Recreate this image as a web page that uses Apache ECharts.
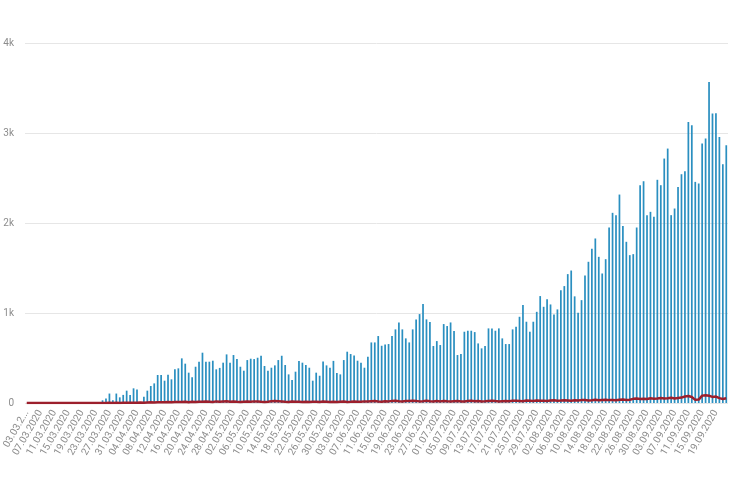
<html>
<head>
    <meta charset='utf-8'>
    <script src='https://cdn.jsdelivr.net/npm/echarts@6/dist/echarts.min.js'></script>
    <style>
        html, body, #main {
            width: 100%;
            height: 100%;
            margin: 0;
            background: #fff;
        }
    </style>
</head>
<body>

<div id='main'></div>
<script>
    // one category per day, 03.03.2020 .. 22.09.2020
    var days = [
        '03.03.2020','04.03.2020','05.03.2020','06.03.2020','07.03.2020','08.03.2020','09.03.2020','10.03.2020','11.03.2020','12.03.2020',
        '13.03.2020','14.03.2020','15.03.2020','16.03.2020','17.03.2020','18.03.2020','19.03.2020','20.03.2020','21.03.2020','22.03.2020',
        '23.03.2020','24.03.2020','25.03.2020','26.03.2020','27.03.2020','28.03.2020','29.03.2020','30.03.2020','31.03.2020',
        '01.04.2020','02.04.2020','03.04.2020','04.04.2020','05.04.2020','06.04.2020','07.04.2020','08.04.2020','09.04.2020','10.04.2020',
        '11.04.2020','12.04.2020','13.04.2020','14.04.2020','15.04.2020','16.04.2020','17.04.2020','18.04.2020','19.04.2020','20.04.2020',
        '21.04.2020','22.04.2020','23.04.2020','24.04.2020','25.04.2020','26.04.2020','27.04.2020','28.04.2020','29.04.2020','30.04.2020',
        '01.05.2020','02.05.2020','03.05.2020','04.05.2020','05.05.2020','06.05.2020','07.05.2020','08.05.2020','09.05.2020','10.05.2020',
        '11.05.2020','12.05.2020','13.05.2020','14.05.2020','15.05.2020','16.05.2020','17.05.2020','18.05.2020','19.05.2020','20.05.2020',
        '21.05.2020','22.05.2020','23.05.2020','24.05.2020','25.05.2020','26.05.2020','27.05.2020','28.05.2020','29.05.2020','30.05.2020','31.05.2020',
        '01.06.2020','02.06.2020','03.06.2020','04.06.2020','05.06.2020','06.06.2020','07.06.2020','08.06.2020','09.06.2020','10.06.2020',
        '11.06.2020','12.06.2020','13.06.2020','14.06.2020','15.06.2020','16.06.2020','17.06.2020','18.06.2020','19.06.2020','20.06.2020',
        '21.06.2020','22.06.2020','23.06.2020','24.06.2020','25.06.2020','26.06.2020','27.06.2020','28.06.2020','29.06.2020','30.06.2020',
        '01.07.2020','02.07.2020','03.07.2020','04.07.2020','05.07.2020','06.07.2020','07.07.2020','08.07.2020','09.07.2020','10.07.2020',
        '11.07.2020','12.07.2020','13.07.2020','14.07.2020','15.07.2020','16.07.2020','17.07.2020','18.07.2020','19.07.2020','20.07.2020',
        '21.07.2020','22.07.2020','23.07.2020','24.07.2020','25.07.2020','26.07.2020','27.07.2020','28.07.2020','29.07.2020','30.07.2020','31.07.2020',
        '01.08.2020','02.08.2020','03.08.2020','04.08.2020','05.08.2020','06.08.2020','07.08.2020','08.08.2020','09.08.2020','10.08.2020',
        '11.08.2020','12.08.2020','13.08.2020','14.08.2020','15.08.2020','16.08.2020','17.08.2020','18.08.2020','19.08.2020','20.08.2020',
        '21.08.2020','22.08.2020','23.08.2020','24.08.2020','25.08.2020','26.08.2020','27.08.2020','28.08.2020','29.08.2020','30.08.2020','31.08.2020',
        '01.09.2020','02.09.2020','03.09.2020','04.09.2020','05.09.2020','06.09.2020','07.09.2020','08.09.2020','09.09.2020','10.09.2020',
        '11.09.2020','12.09.2020','13.09.2020','14.09.2020','15.09.2020','16.09.2020','17.09.2020','18.09.2020','19.09.2020','20.09.2020',
        '21.09.2020','22.09.2020'
    ];

    // new cases per day
    var cases = [
        0,0,0,0,0,0,0,0,0,0,
        0,0,0,0,0,0,0,0,0,0,
        0,0,30,50,105,30,105,63,90,137,
        90,163,150,10,70,137,189,218,311,311,
        248,315,263,374,385,496,437,337,285,403,
        459,559,459,459,470,374,390,448,540,448,
        533,488,403,359,477,492,488,503,525,411,
        359,392,418,477,525,422,318,255,348,466,
        448,422,392,248,337,303,462,418,392,468,
        333,318,477,570,544,529,470,448,392,514,
        673,673,744,636,651,655,744,818,895,818,
        718,673,818,929,988,1099,929,899,633,688,
        644,877,855,895,800,533,544,792,803,803,
        788,662,607,633,829,829,803,829,718,655,
        655,818,847,958,1088,903,792,903,1013,1188,
        1069,1154,1095,984,1040,1254,1299,1432,1472,1185,
        1003,1143,1417,1569,1713,1828,1624,1439,1598,1950,
        2113,2087,2316,1968,1791,1643,1654,1950,2420,2464,
        2087,2124,2070,2480,2420,2716,2827,2087,2161,2401,
        2542,2575,3122,3086,2457,2439,2883,2938,3567,3216,
        3220,2956,2653,2864
    ];

    // deaths per day (the red line near the bottom)
    var deaths = [
        0,0,0,0,0,0,0,0,0,0,
        0,0,0,0,0,0,0,0,0,0,
        0,0,1,0,2,1,2,1,3,2,
        3,4,2,5,3,6,7,5,8,9,
        7,10,9,12,10,11,14,9,13,12,
        15,13,16,14,12,18,15,17,19,14,
        16,13,12,15,17,14,18,16,13,12,
        15,19,22,20,17,14,12,16,13,15,
        12,14,11,13,15,12,16,14,12,13,
        11,15,16,12,14,17,15,13,18,16,
        19,21,17,15,20,18,22,24,19,17,
        21,23,26,22,18,20,24,19,16,21,
        18,22,19,17,20,23,18,16,21,24,
        20,22,17,19,23,25,21,18,20,22,
        19,24,26,23,20,27,25,22,28,24,
        26,23,28,30,25,27,31,29,26,30,
        28,32,34,29,31,35,30,33,36,32,
        34,30,36,38,33,37,46,50,44,48,
        45,52,47,50,55,49,53,58,51,56,
        60,72,78,66,35,38,82,86,80,68,
        71,54,45,52
    ];

    var yTicks = ['0', '1k', '2k', '3k', '4k'];

    var myChart = echarts.init(document.getElementById('main'));
    myChart.setOption({
        backgroundColor: '#fff',
        animation: false,
        grid: {
            left: 25,
            right: 22,
            top: 43,
            bottom: 97
        },
        xAxis: {
            type: 'category',
            data: days,
            axisLine: { show: false },
            axisTick: { show: false },
            axisLabel: {
                interval: 3,
                rotate: 60,
                color: '#8c8c8c',
                fontSize: 10,
                fontFamily: 'Liberation Sans Narrow, Roboto, sans-serif',
                margin: 8,
                formatter: function (val, idx) {
                    // the first label is cut off in the original
                    return idx === 0 ? val.slice(0, 7) + '...' : val;
                }
            }
        },
        yAxis: {
            type: 'value',
            min: 0,
            max: 4000,
            interval: 1000,
            axisLine: { show: false },
            axisTick: { show: false },
            splitLine: {
                lineStyle: { color: '#e6e6e6', width: 1 }
            },
            axisLabel: {
                color: '#8c8c8c',
                fontSize: 10,
                fontFamily: 'Liberation Sans Narrow, Roboto, sans-serif',
                margin: 11,
                formatter: function (v) {
                    return yTicks[v / 1000];
                }
            }
        },
        series: [
            {
                name: 'cases',
                type: 'bar',
                data: cases,
                barWidth: '50%',
                itemStyle: {
                    color: '#2a8fc0'
                }
            },
            {
                name: 'deaths',
                type: 'line',
                data: deaths,
                symbol: 'none',
                z: 5,
                lineStyle: {
                    color: '#9c1f2c',
                    width: 2.5
                }
            }
        ]
    });
</script>
</body>
</html>
